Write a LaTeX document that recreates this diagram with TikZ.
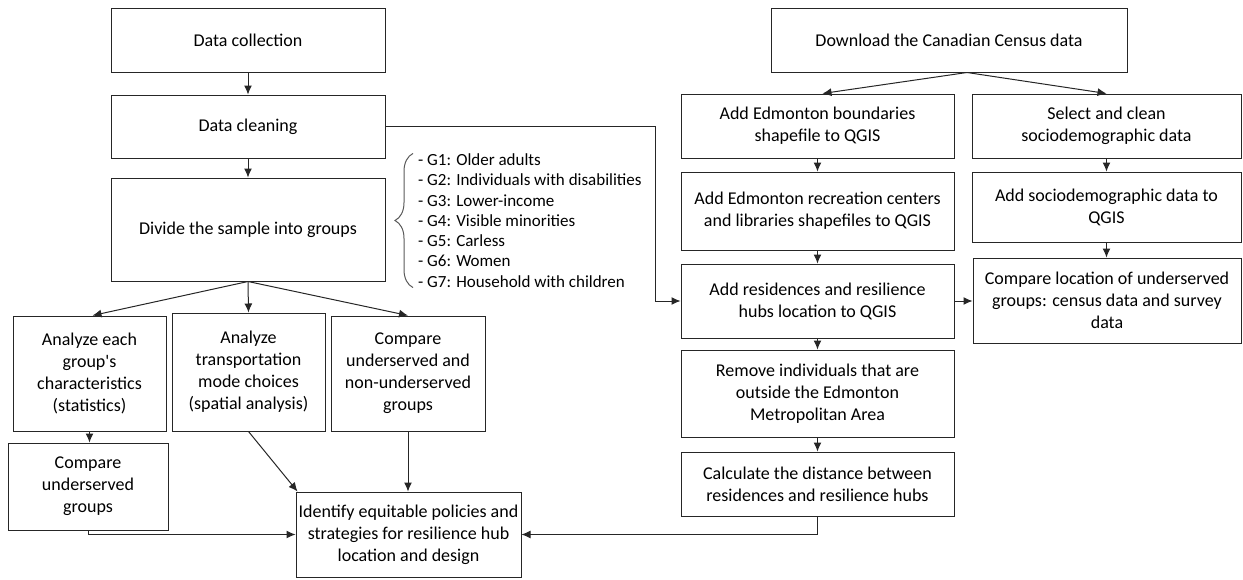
\documentclass[tikz,border=0pt]{standalone}
\usepackage{fontspec}
\setmainfont{Carlito}
\usetikzlibrary{arrows.meta,decorations.pathreplacing,calc}
\begin{document}
\begin{tikzpicture}[x=1pt,y=-1pt,
 box/.style={draw=black!85,line width=1pt,fill=white,align=center,inner sep=0pt,font=\fontsize{18}{22}\selectfont},
 arr/.style={draw=black!85,line width=1pt,-{Latex[length=9pt,width=8pt]}},
 bracestyle/.style={draw=black!65,line width=1pt,decorate,decoration={brace,amplitude=18pt}},
 ]
\useasboundingbox (0,0) rectangle (1243,579);
% left column
\node[box,minimum width=274pt,minimum height=64pt] (dc) at (248,40) {Data collection};
\node[box,minimum width=274pt,minimum height=63pt] (clean) at (248,126.5) {Data cleaning};
\node[box,minimum width=274pt,minimum height=103pt] (divide) at (248,229.5) {Divide the sample into groups};
\node[box,minimum width=153pt,minimum height=115pt] (a1) at (89.5,373.5) {Analyze each\\group\textquotesingle s\\characteristics\\(statistics)};
\node[box,minimum width=153pt,minimum height=118pt] (a2) at (248.5,372) {Analyze\\transportation\\mode choices\\(spatial analysis)};
\node[box,minimum width=154pt,minimum height=115pt] (a3) at (408,373.5) {Compare\\underserved and\\non-underserved\\groups};
\node[box,minimum width=160pt,minimum height=87pt] (cmp) at (88,486.5) {Compare\\underserved\\groups};
\node[box,minimum width=225pt,minimum height=85pt] (ident) at (408.5,534.5) {Identify equitable policies and\\strategies for resilience hub\\location and design};
% group list
\node[font=\fontsize{17}{20.3}\selectfont,align=left,inner sep=0pt,anchor=west] (grp) at (418,220.5)
 {- G1: Older adults\\- G2: Individuals with disabilities\\- G3: Lower-income\\- G4: Visible minorities\\- G5: Carless\\- G6: Women\\- G7: Household with children};
\draw[bracestyle] ([xshift=-5pt]grp.south west) -- ([xshift=-5pt]grp.north west);
% right column
\node[box,minimum width=356pt,minimum height=64pt] (dl) at (949,40) {Download the Canadian Census data};
\node[box,minimum width=273pt,minimum height=64pt] (bnd) at (817.5,126) {Add Edmonton boundaries\\shapefile to QGIS};
\node[box,minimum width=269pt,minimum height=64pt] (sel) at (1106.5,126) {Select and clean\\sociodemographic data};
\node[box,minimum width=273pt,minimum height=78pt] (rec) at (817.5,211) {Add Edmonton recreation centers\\and libraries shapefiles to QGIS};
\node[box,minimum width=269pt,minimum height=70pt] (soc) at (1106.5,207) {Add sociodemographic data to\\QGIS};
\node[box,minimum width=273pt,minimum height=74pt] (res) at (817.5,301) {Add residences and resilience\\hubs location to QGIS};
\node[box,minimum width=268pt,minimum height=85pt] (loc) at (1107,300.5) {Compare location of underserved\\groups: census data and survey\\data};
\node[box,minimum width=273pt,minimum height=87pt] (rem) at (817.5,393.5) {Remove individuals that are\\outside the Edmonton\\Metropolitan Area};
\node[box,minimum width=273pt,minimum height=64pt] (calc) at (817.5,484) {Calculate the distance between\\residences and resilience hubs};
% connectors left
\draw[arr] (dc) -- (clean);
\draw[arr] (clean) -- (divide);
\draw[arr] (divide.south) -- ([xshift=3pt]a1.north);
\draw[arr] (divide.south) -- (a2.north);
\draw[arr] (divide.south) -- (a3.north);
\draw[arr] (a1.south) -- (a1.south |- cmp.north);
\draw[arr] (cmp.south) |- (ident.west);
\draw[arr] (a2.south) -- ([xshift=2pt]ident.north west);
\draw[arr] (a3.south) -- (a3.south |- ident.north);
\draw[arr] (clean.east) -| ([xshift=-25pt]res.west) -- (res.west);
% connectors right
\draw[arr] ([xshift=18pt]dl.south) -- ([xshift=5pt]bnd.north);
\draw[arr] ([xshift=18pt]dl.south) -- (sel.north);
\draw[arr] (bnd) -- (rec);
\draw[arr] (rec) -- (res);
\draw[arr] (res) -- (rem);
\draw[arr] (rem) -- (calc);
\draw[arr] (sel) -- (soc);
\draw[arr] (soc.south) -- (soc.south |- loc.north);
\draw[arr] (res.east) -- (res.east -| loc.west);
\draw[arr] (calc.south) |- (ident.east);
\end{tikzpicture}
\end{document}
